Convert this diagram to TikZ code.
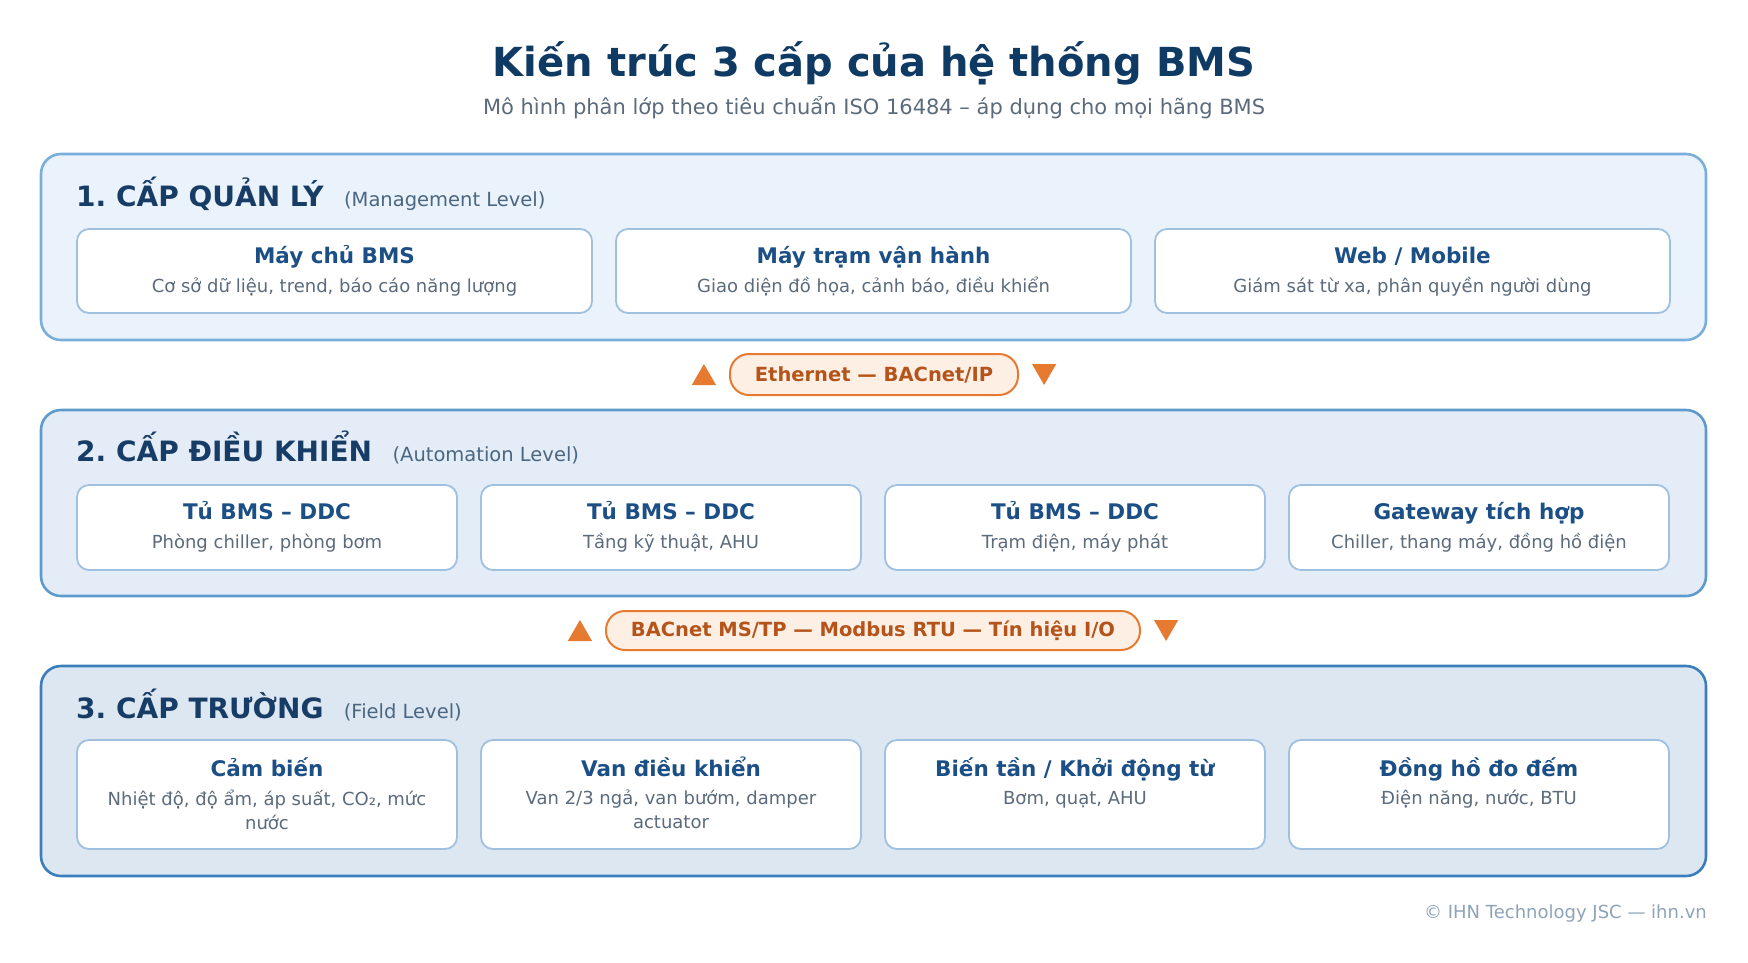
\documentclass[tikz,border=0pt]{standalone}
\usepackage{fontspec}
\setmainfont{DejaVu Sans}
\usetikzlibrary{positioning, shapes.geometric}

\definecolor{titleblue}{HTML}{0E3A64}
\definecolor{headblue}{HTML}{173D66}
\definecolor{itemblue}{HTML}{1B4F86}
\definecolor{subgray}{HTML}{5B6B7C}
\definecolor{levelgray}{HTML}{4A6680}
\definecolor{fillA}{HTML}{EAF2FB}
\definecolor{lineA}{HTML}{7AAFDC}
\definecolor{fillB}{HTML}{E4EDF7}
\definecolor{lineB}{HTML}{5F9ACD}
\definecolor{fillC}{HTML}{DDE7F2}
\definecolor{lineC}{HTML}{3C7DBB}
\definecolor{itemline}{HTML}{9FC0DF}
\definecolor{pillfill}{HTML}{FDEFE4}
\definecolor{pillline}{HTML}{E67A30}
\definecolor{pilltext}{HTML}{B4541A}
\definecolor{footgray}{HTML}{8FA3B8}

\newcommand{\fs}[1]{\fontsize{#1}{1.3\dimexpr#1pt\relax}\selectfont}
\frenchspacing

\begin{document}
\begin{tikzpicture}[x=1pt, y=-1pt,
    panel/.style={line width=2.6pt, rounded corners=20pt, minimum width=1665pt, inner sep=0pt},
    item/.style={draw=itemline, line width=1.8pt, fill=white, rounded corners=12pt, inner sep=0pt, outer sep=0pt},
    itemtitle/.style={font=\fs{21.5}\bfseries, text=itemblue, inner sep=0pt},
    itemsub/.style={font=\fs{18}, text=subgray, align=center, inner sep=0pt},
    levelhead/.style={font=\fs{28}\bfseries, text=headblue, inner sep=0pt, anchor=base west},
    levelsub/.style={font=\fs{19.5}, text=levelgray, inner sep=0pt, anchor=base west},
    pill/.style={draw=pillline, fill=pillfill, line width=2pt, rounded corners=19pt, inner sep=0pt,
      font=\fs{19.5}\bfseries, text=pilltext},
    tri/.style={regular polygon, regular polygon sides=3, fill=pillline, minimum size=28pt, inner sep=0pt, outer sep=0pt}]
  \useasboundingbox [fill=white] (0,0) rectangle (1748,962);

  % title
  \node (title) [font=\fs{40}\bfseries, text=titleblue, inner sep=0pt, anchor=base] at (874,76) {Kiến trúc 3 cấp của hệ thống BMS};
  \node (subtitle) [font=\fs{21}, text=subgray, inner sep=0pt, anchor=base] at (874,114) {Mô hình phân lớp theo tiêu chuẩn ISO 16484 – áp dụng cho mọi hãng BMS};

  % 1. management level
  \node (mgmt) [panel, draw=lineA, fill=fillA, minimum height=186pt] at (873.5,247) {};
  \node (mgmthead) [levelhead] at (76,206) {1. CẤP QUẢN LÝ};
  \node (mgmtsub) [levelsub, xshift=20pt] at (mgmthead.base east) {(Management Level)};
  \node (server) [item, minimum width=515pt, minimum height=84pt] at (334.5,271) {};
  \node (station) [item, minimum width=515pt, minimum height=84pt, right=24pt of server] {};
  \node (web) [item, minimum width=515pt, minimum height=84pt, right=24pt of station] {};
  \node (servert) [itemtitle, below=34pt of server.north, anchor=base] {Máy chủ BMS};
  \node (servers) [itemsub, below=63pt of server.north, anchor=base] {Cơ sở dữ liệu, trend, báo cáo năng lượng};
  \node (stationt) [itemtitle, below=34pt of station.north, anchor=base] {Máy trạm vận hành};
  \node (stations) [itemsub, below=63pt of station.north, anchor=base] {Giao diện đồ họa, cảnh báo, điều khiển};
  \node (webt) [itemtitle, below=34pt of web.north, anchor=base] {Web / Mobile};
  \node (webs) [itemsub, below=63pt of web.north, anchor=base] {Giám sát từ xa, phân quyền người dùng};

  % link 1
  \node (eth) [pill, minimum width=288pt, minimum height=41pt] at (874,374.5) {Ethernet — BACnet/IP};
  \node (ethup) [tri, left=17pt of eth, yshift=-3.5pt] {};
  \node (ethdown) [tri, shape border rotate=180, right=17pt of eth, yshift=3.5pt] {};

  % 2. automation level
  \node (auto) [panel, draw=lineB, fill=fillB, minimum height=186pt] at (873.5,503) {};
  \node (autohead) [levelhead] at (76,461) {2. CẤP ĐIỀU KHIỂN};
  \node (autosub) [levelsub, xshift=20pt] at (autohead.base east) {(Automation Level)};
  \node (ddca) [item, minimum width=380pt, minimum height=85pt] at (267,527.5) {};
  \node (ddcb) [item, minimum width=380pt, minimum height=85pt, right=24pt of ddca] {};
  \node (ddcc) [item, minimum width=380pt, minimum height=85pt, right=24pt of ddcb] {};
  \node (gw) [item, minimum width=380pt, minimum height=85pt, right=24pt of ddcc] {};
  \node (ddcat) [itemtitle, below=34pt of ddca.north, anchor=base] {Tủ BMS – DDC};
  \node (ddcas) [itemsub, below=63pt of ddca.north, anchor=base] {Phòng chiller, phòng bơm};
  \node (ddcbt) [itemtitle, below=34pt of ddcb.north, anchor=base] {Tủ BMS – DDC};
  \node (ddcbs) [itemsub, below=63pt of ddcb.north, anchor=base] {Tầng kỹ thuật, AHU};
  \node (ddcct) [itemtitle, below=34pt of ddcc.north, anchor=base] {Tủ BMS – DDC};
  \node (ddccs) [itemsub, below=63pt of ddcc.north, anchor=base] {Trạm điện, máy phát};
  \node (gwt) [itemtitle, below=34pt of gw.north, anchor=base] {Gateway tích hợp};
  \node (gws) [itemsub, below=63pt of gw.north, anchor=base] {Chiller, thang máy, đồng hồ điện};

  % link 2
  \node (bus) [pill, minimum width=534pt, minimum height=39pt] at (873,630.5) {BACnet MS/TP — Modbus RTU — Tín hiệu I/O};
  \node (busup) [tri, left=17pt of bus, yshift=-3.5pt] {};
  \node (busdown) [tri, shape border rotate=180, right=17pt of bus, yshift=3.5pt] {};

  % 3. field level
  \node (field) [panel, draw=lineC, fill=fillC, minimum height=210pt] at (873.5,771) {};
  \node (fieldhead) [levelhead] at (76,718) {3. CẤP TRƯỜNG};
  \node (fieldsub) [levelsub, xshift=20pt] at (fieldhead.base east) {(Field Level)};
  \node (sensor) [item, minimum width=380pt, minimum height=109pt] at (267,794.5) {};
  \node (valve) [item, minimum width=380pt, minimum height=109pt, right=24pt of sensor] {};
  \node (vfd) [item, minimum width=380pt, minimum height=109pt, right=24pt of valve] {};
  \node (meter) [item, minimum width=380pt, minimum height=109pt, right=24pt of vfd] {};
  \node (sensort) [itemtitle, below=36pt of sensor.north, anchor=base] {Cảm biến};
  \node (sensors) [itemsub, below=50pt of sensor.north, anchor=north] {Nhiệt độ, độ ẩm, áp suất, CO₂, mức\\nước};
  \node (valvet) [itemtitle, below=36pt of valve.north, anchor=base] {Van điều khiển};
  \node (valves) [itemsub, below=50pt of valve.north, anchor=north] {Van 2/3 ngả, van bướm, damper\\actuator};
  \node (vfdt) [itemtitle, below=36pt of vfd.north, anchor=base] {Biến tần / Khởi động từ};
  \node (vfds) [itemsub, below=64pt of vfd.north, anchor=base] {Bơm, quạt, AHU};
  \node (metert) [itemtitle, below=36pt of meter.north, anchor=base] {Đồng hồ đo đếm};
  \node (meters) [itemsub, below=64pt of meter.north, anchor=base] {Điện năng, nước, BTU};

  % footer
  \node (foot) [font=\fs{18}, text=footgray, inner sep=0pt, anchor=base east] at (1707,918) {© IHN Technology JSC — ihn.vn};
\end{tikzpicture}
\end{document}
